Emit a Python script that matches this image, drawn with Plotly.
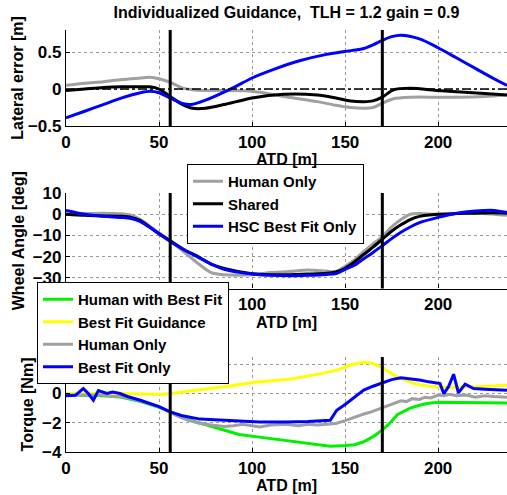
import plotly.graph_objects as go
from plotly.subplots import make_subplots

# ---------------- data ----------------
title_text = "Individualized Guidance,  TLH = 1.2 gain = 0.9"
event_atd = [56, 170]  # ATD of the two black marker lines

# Panel 1: lateral error [m]
lat_x = [0, 10, 20, 30, 40, 45, 50, 56, 62, 68, 75, 85, 100, 117, 135, 145, 153, 160, 165, 170, 176, 185, 200, 212, 225, 237]
lat_human = [0.05, 0.08, 0.1, 0.13, 0.15, 0.16, 0.14, 0.09, 0.02, -0.01, -0.02, -0.02, -0.03, -0.1, -0.17, -0.22, -0.25, -0.26, -0.25, -0.19, -0.13, -0.11, -0.11, -0.11, -0.1, -0.08]
lat_shared = [-0.02, 0.0, 0.02, 0.03, 0.03, 0.03, 0.0, -0.1, -0.2, -0.26, -0.26, -0.21, -0.12, -0.07, -0.08, -0.12, -0.16, -0.17, -0.16, -0.11, -0.01, 0.01, -0.02, -0.04, -0.06, -0.08]
lat_x_blue = [0, 10, 20, 30, 40, 45, 50, 56, 62, 67, 75, 90, 100, 112, 125, 140, 150, 160, 165, 170, 175, 180, 190, 200, 210, 220, 230, 237]
lat_best = [-0.39, -0.3, -0.21, -0.12, -0.05, -0.03, -0.05, -0.12, -0.19, -0.21, -0.15, 0.02, 0.15, 0.27, 0.38, 0.47, 0.51, 0.55, 0.6, 0.66, 0.71, 0.73, 0.68, 0.56, 0.42, 0.28, 0.14, 0.05]

# Panel 2: wheel angle [deg]
wa_x = [0, 10, 20, 30, 35, 40, 48, 56, 63, 70, 78, 85, 100, 110, 120, 130, 140, 145, 150, 155, 160, 165, 170, 175, 180, 185, 190, 200, 210, 220, 230, 237]
wa_human = [0, 0.3, 0.5, 0.2, -0.5, -2.5, -7.5, -12.5, -17.5, -22.5, -27.5, -28.5, -28.5, -27.5, -27.0, -26.3, -26.8, -27.0, -24.5, -21.5, -17.5, -14, -10.5, -6, -2.5, 0, 0.3, 0, 0.3, 0.5, 0, -0.5]
wa_shared = [0, -0.5, -0.8, -1.0, -1.5, -3.0, -8.0, -12.5, -16.5, -19.5, -23.5, -25.5, -28.0, -28.5, -28.5, -28.2, -27.8, -27.2, -25.5, -22.5, -19.0, -15.5, -11.8, -8.0, -5.0, -2.5, -1.0, 0.0, 0.3, 0.5, 0.7, 0.5]
wa_best = [1.8, 0, -1.0, -1.5, -2.0, -3.5, -8.0, -12.8, -16.5, -19.8, -23.5, -26.0, -28.2, -28.8, -29.0, -28.8, -28.4, -28.0, -26.0, -24.0, -21.0, -18.0, -14.8, -11.5, -8.5, -6.0, -4.0, -1.5, 0.5, 1.5, 1.8, 0.8]

# Panel 3: torque [Nm]
tq_x_green = [0, 10, 20, 30, 40, 50, 56, 62, 70, 77, 85, 93, 105, 118, 130, 142, 150, 155, 160, 165, 170, 175, 178, 185, 190, 194, 200, 210, 220, 237]
tq_green = [-0.1, -0.1, -0.15, -0.25, -0.55, -0.95, -1.25, -1.6, -1.95, -2.2, -2.5, -2.8, -3.0, -3.2, -3.4, -3.6, -3.55, -3.5, -3.3, -2.95, -2.5, -1.9, -1.45, -1.0, -0.8, -0.68, -0.6, -0.6, -0.62, -0.65]
tq_x_yellow = [0, 10, 20, 30, 40, 50, 56, 65, 77, 90, 104, 118, 130, 142, 147, 153, 160, 165, 170, 178, 187, 199, 215, 237]
tq_yellow = [0.0, 0.0, 0.0, 0.0, -0.03, -0.05, 0.0, 0.15, 0.34, 0.55, 0.8, 0.96, 1.2, 1.5, 1.65, 1.95, 2.12, 2.05, 1.75, 1.15, 0.7, 0.45, 0.45, 0.57]
tq_x_grey = [0, 5, 10, 15, 20, 25, 30, 35, 40, 45, 50, 56, 60, 65, 72, 78, 85, 90, 95, 104, 110, 118, 125, 130, 135, 140, 145, 150, 155, 160, 163, 166, 170, 173, 176, 180, 183, 186, 190, 193, 196, 200, 203, 206, 210, 215, 220, 225, 230, 237]
tq_grey = [-0.1, -0.1, -0.1, -0.15, -0.1, -0.2, -0.2, -0.35, -0.5, -0.7, -0.9, -1.28, -1.55, -1.8, -2.05, -2.15, -2.25, -2.2, -2.1, -2.28, -2.15, -2.1, -2.2, -2.1, -2.15, -2.1, -2.05, -1.85, -1.6, -1.4, -1.3, -1.15, -0.95, -0.8, -0.7, -0.5, -0.55, -0.35, -0.4, -0.25, -0.3, -0.1, -0.15, -0.05, -0.15, -0.1, -0.25, -0.15, -0.2, -0.25]
tq_x_blue = [0, 5, 9.3, 12, 14.7, 17.4, 22, 25, 29, 33, 40, 45, 50, 56, 62, 72, 85, 104, 118, 130, 142, 145.5, 150, 155, 160, 165, 170, 175, 180, 185, 190, 195, 201, 203, 205.5, 208.3, 210.9, 214.5, 219, 225, 230, 237]
tq_best = [-0.15, -0.12, 0.34, 0.0, -0.46, 0.2, 0.0, 0.1, 0.0, -0.2, -0.46, -0.7, -0.9, -1.26, -1.5, -1.75, -1.85, -1.95, -1.94, -1.92, -1.83, -1.14, -0.75, -0.25, 0.23, 0.5, 0.72, 0.95, 1.08, 1.02, 0.92, 0.8, 0.68, 0.0, 0.45, 1.32, 0.04, 0.64, 0.34, 0.3, 0.25, 0.22]

x_range = [0, 237]
x_ticks = [0, 50, 100, 150, 200]
lat_range = [-0.5, 0.8]
lat_ticks = [-0.5, 0, 0.5]
lat_ticklabels = ["\u22120.5", "0", "0.5"]
wa_range = [-35, 10]
wa_ticks = [-30, -20, -10, 0, 10]
tq_range = [-4, 2.5]
tq_ticks = [-4, -2, 0, 2]

# ---------------- styles ----------------
GREY = "#a0a0a0"
BLACK = "#000000"
BLUE = "#0000ff"
GREEN = "#00f000"
YELLOW = "#ffff00"
FONT = "Liberation Sans"
LW = 3

W, H = 507, 495
fig = make_subplots(rows=3, cols=1)

def add(row, x, y, name, color, shape, legend, show=True):
    fig.add_trace(go.Scatter(x=x, y=y, mode="lines", name=name,
                             line=dict(color=color, width=LW, shape=shape, smoothing=0.8),
                             showlegend=show, legend=legend), row=row, col=1)

add(1, lat_x, lat_human, "Human Only", GREY, "spline", "legend", False)
add(1, lat_x, lat_shared, "Shared", BLACK, "spline", "legend", False)
add(1, lat_x_blue, lat_best, "HSC Best Fit Only", BLUE, "spline", "legend", False)

add(2, wa_x, wa_human, "Human Only", GREY, "spline", "legend")
add(2, wa_x, wa_shared, "Shared", BLACK, "spline", "legend")
add(2, wa_x, wa_best, "HSC Best Fit Only", BLUE, "spline", "legend")

add(3, tq_x_green, tq_green, "Human with Best Fit", GREEN, "linear", "legend2")
add(3, tq_x_yellow, tq_yellow, "Best Fit Guidance", YELLOW, "spline", "legend2")
add(3, tq_x_grey, tq_grey, "Human Only", GREY, "linear", "legend2")
add(3, tq_x_blue, tq_best, "Best Fit Only", BLUE, "linear", "legend2")

fig.add_hline(y=0, line=dict(color="black", width=1.5, dash="dashdot"), row=1, col=1)
for v in event_atd:
    for r in (1, 2, 3):
        fig.add_vline(x=v, line=dict(color="black", width=3), row=r, col=1)

def ydom(top_px, bot_px):
    return [1 - bot_px / H, 1 - top_px / H]

x0 = 66 / W
doms = [ydom(30, 126), ydom(193, 288.5), ydom(357, 452)]

axis_common = dict(showline=True, linecolor="black", linewidth=1.2, mirror=False,
                   ticks="inside", ticklen=4, tickcolor="black",
                   showgrid=True, gridcolor="#999999", griddash="dot", gridwidth=1,
                   zeroline=False, automargin=False,
                   tickfont=dict(family=FONT, size=17, color="black", weight="bold"))

title_font = dict(family=FONT, size=16, color="black", weight="bold")
ytitles = ["Lateral error [m]", "Wheel Angle [deg]", "Torque [Nm]"]
yranges = [lat_range, wa_range, tq_range]
ytickvals = [lat_ticks, wa_ticks, tq_ticks]
xstandoff = [1, 0, 0]
ystandoff = [0, 4, 4]
for i in range(3):
    sfx = "" if i == 0 else str(i + 1)
    fig.layout["xaxis" + sfx].update(domain=[x0, 1], range=x_range, tickvals=x_ticks,
                                     title=dict(text="ATD [m]", font=title_font, standoff=xstandoff[i]),
                                     **axis_common)
    fig.layout["yaxis" + sfx].update(domain=doms[i], range=yranges[i], tickvals=ytickvals[i],
                                     title=dict(text=ytitles[i], font=title_font, standoff=ystandoff[i]),
                                     **axis_common)
fig.layout.yaxis.ticktext = lat_ticklabels

legend_common = dict(bgcolor="white", bordercolor="black", borderwidth=1,
                     font=dict(family=FONT, size=15, color="black", weight="bold"),
                     xanchor="left", yanchor="middle", tracegroupgap=0)
fig.update_layout(
    width=W, height=H,
    margin=dict(l=0, r=0, t=0, b=0),
    paper_bgcolor="white", plot_bgcolor="white",
    title=dict(text=title_text, x=(66 + W) / 2 / W, xanchor="center", y=1 - 12 / H, yanchor="middle",
               font=dict(family=FONT, size=16, color="black", weight="bold")),
    legend=dict(x=187 / W, y=1 - 204 / H, **legend_common),
    legend2=dict(x=37 / W, y=1 - 333 / H, **legend_common),
)

fig.write_html("out.html", config={"displayModeBar": False},
               post_script="document.body.style.margin='0';document.body.style.padding='0';document.body.style.overflow='hidden';")
